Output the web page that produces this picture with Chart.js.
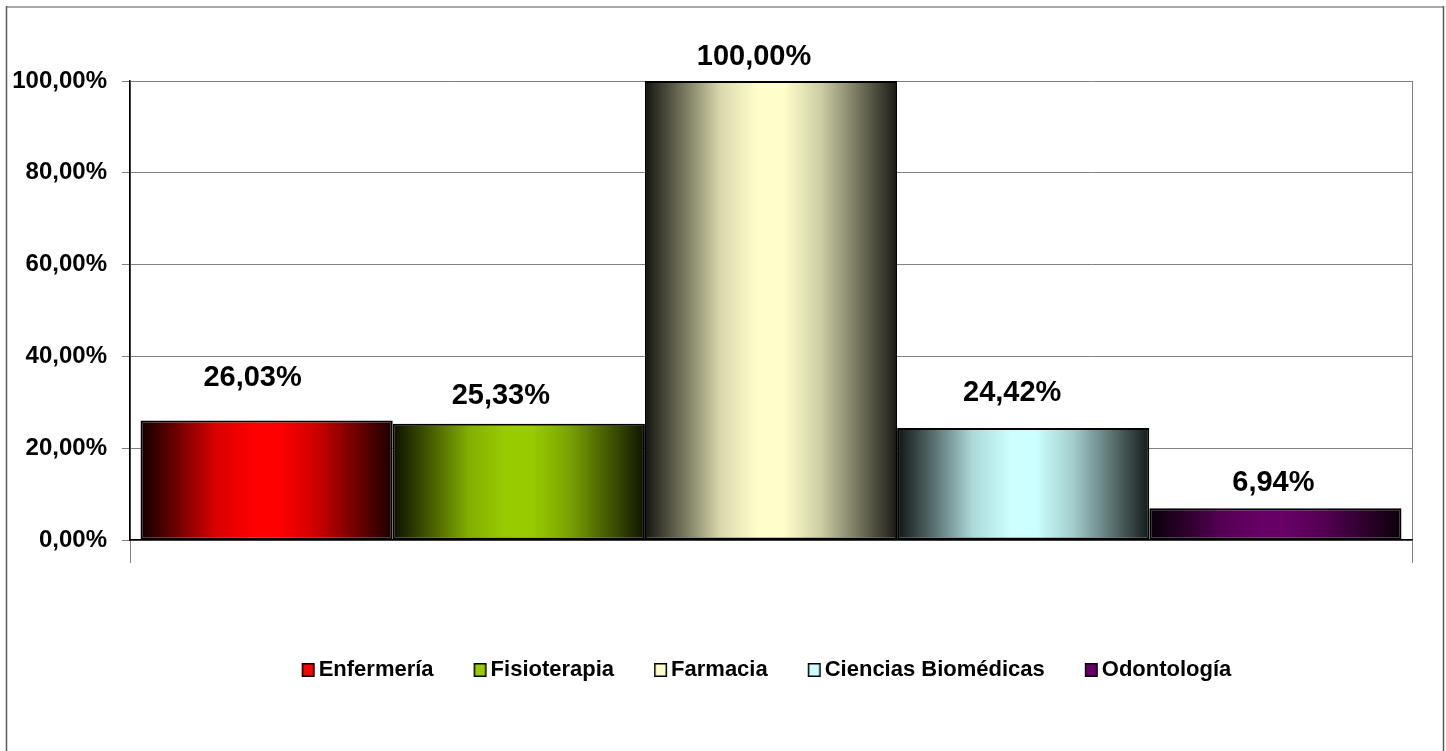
<!DOCTYPE html>
<html>
<head>
<meta charset="utf-8">
<script src="https://cdn.jsdelivr.net/npm/chart.js@4"></script>
<style>
  html, body { margin: 0; padding: 0; background: #fff; }
  #wrap { width: 1446px; height: 751px; position: relative; }
</style>
</head>
<body>
<div id="wrap"><canvas id="chart"></canvas></div>
<script>
// data
const categories = [''];
const seriesNames = ['Enfermería', 'Fisioterapia', 'Farmacia', 'Ciencias Biomédicas', 'Odontología'];
const seriesValues = [26.03, 25.33, 100.00, 24.42, 6.94];
const barColors = ['#FF0000', '#99CC00', '#FFFFCC', '#CCFFFF', '#660066'];
const yTicks = [0, 20, 40, 60, 80, 100];

// label placement (style only)
const labelShiftX = [-14, -18, -17, -11, -2];
const labelLift = [43, 28, 24, 35, 25];

const CAT_PCT = 0.9836;
const FONT = '"Liberation Sans", Arial, sans-serif';

const fmt = v => v.toFixed(2).replace('.', ',') + '%';

function shade(hex, f) {
  const n = parseInt(hex.slice(1), 16);
  const r = (n >> 16) & 255, g = (n >> 8) & 255, b = n & 255;
  return `rgb(${Math.round(r * f)},${Math.round(g * f)},${Math.round(b * f)})`;
}

// Excel-like "from center" shading: dark edges, bright middle
function barGradient(c) {
  const chart = c.chart;
  const base = barColors[c.datasetIndex];
  const x = chart.scales && chart.scales.x;
  if (!chart.chartArea || !x) return base;
  const groupW = (x.right - x.left) * CAT_PCT;
  const w = groupW / seriesNames.length;
  const left = x.getPixelForValue(0) - groupW / 2 + c.datasetIndex * w;
  const g = chart.ctx.createLinearGradient(left, 0, left + w, 0);
  [[0, 0.08], [0.15, 0.45], [0.3, 0.85], [0.45, 1], [0.55, 1], [0.7, 0.8], [0.85, 0.45], [1, 0.1]]
    .forEach(([p, f]) => g.addColorStop(p, shade(base, f)));
  return g;
}

// legend marker: square sits at the right of the image so it hugs the text
const legendMarks = barColors.map(col => {
  const cv = document.createElement('canvas');
  cv.width = 30; cv.height = 16;
  const cx = cv.getContext('2d');
  cx.fillStyle = col;
  cx.fillRect(16, 1, 13, 14);
  cx.strokeStyle = '#000';
  cx.lineWidth = 1.5;
  cx.strokeRect(16.75, 1.75, 11.5, 12.5);
  return cv;
});

const framePlugin = {
  id: 'frame',
  afterLayout(chart) {
    // legend sits a little left of the plot centre in the original
    chart.legend.left -= 17;
  },
  beforeDraw(chart) {
    const ctx = chart.ctx;
    ctx.save();
    ctx.fillStyle = '#fff';
    ctx.fillRect(0, 0, chart.width, chart.height);
    ctx.strokeStyle = '#a8a8a8';
    ctx.lineWidth = 2;
    ctx.beginPath();
    ctx.moveTo(6, 7); ctx.lineTo(1444, 7);
    ctx.stroke();
    ctx.strokeStyle = '#5a5a5a';
    ctx.lineWidth = 1.5;
    ctx.beginPath();
    ctx.moveTo(6.5, 6); ctx.lineTo(6.5, chart.height);
    ctx.moveTo(1443.5, 6); ctx.lineTo(1443.5, chart.height);
    ctx.stroke();
    ctx.restore();
  }
};

const valueLabels = {
  id: 'valueLabels',
  afterDatasetsDraw(chart) {
    const ctx = chart.ctx;
    ctx.save();
    ctx.font = 'bold 29px ' + FONT;
    ctx.fillStyle = '#000';
    ctx.textAlign = 'center';
    ctx.textBaseline = 'middle';
    chart.data.datasets.forEach((ds, i) => {
      const bar = chart.getDatasetMeta(i).data[0];
      ctx.fillText(fmt(ds.data[0]), bar.x + labelShiftX[i], bar.y - labelLift[i]);
    });
    ctx.restore();
  }
};

new Chart(document.getElementById('chart'), {
  type: 'bar',
  data: {
    labels: categories,
    datasets: seriesNames.map((name, i) => ({
      label: name,
      data: [seriesValues[i]],
      backgroundColor: barGradient,
      borderColor: '#000',
      borderWidth: 2,
      borderSkipped: false
    }))
  },
  options: {
    responsive: true,
    maintainAspectRatio: false,
    animation: false,
    layout: { padding: { left: 0, right: 34, top: 81, bottom: 60 } },
    datasets: { bar: { categoryPercentage: CAT_PCT, barPercentage: 1 } },
    scales: {
      x: {
        offset: true,
        grid: { offset: true, color: '#808080', lineWidth: 1, tickLength: 23, drawOnChartArea: true },
        border: { color: '#000', width: 1.5 },
        ticks: { display: false },
        afterFit(scale) { scale.height = 87; }
      },
      y: {
        min: 0,
        max: 100,
        afterBuildTicks(scale) { scale.ticks = yTicks.map(v => ({ value: v })); },
        grid: { color: '#808080', lineWidth: 1, tickLength: 8 },
        border: { color: '#000', width: 1.5 },
        ticks: {
          padding: 15,
          color: '#000',
          font: { family: FONT, size: 24, weight: 'bold' },
          callback: v => fmt(v)
        },
        afterFit(scale) { scale.width = 130; }
      }
    },
    plugins: {
      tooltip: { enabled: false },
      legend: {
        position: 'bottom',
        fullSize: false,
        labels: {
          color: '#000',
          font: { family: FONT, size: 22, weight: 'bold' },
          usePointStyle: true,
          pointStyleWidth: 14,
          boxHeight: 14,
          padding: 32,
          generateLabels(chart) {
            const items = Chart.defaults.plugins.legend.labels.generateLabels(chart);
            items.forEach((it, i) => { it.pointStyle = legendMarks[i]; });
            return items;
          }
        }
      }
    }
  },
  plugins: [framePlugin, valueLabels]
});
</script>
</body>
</html>
